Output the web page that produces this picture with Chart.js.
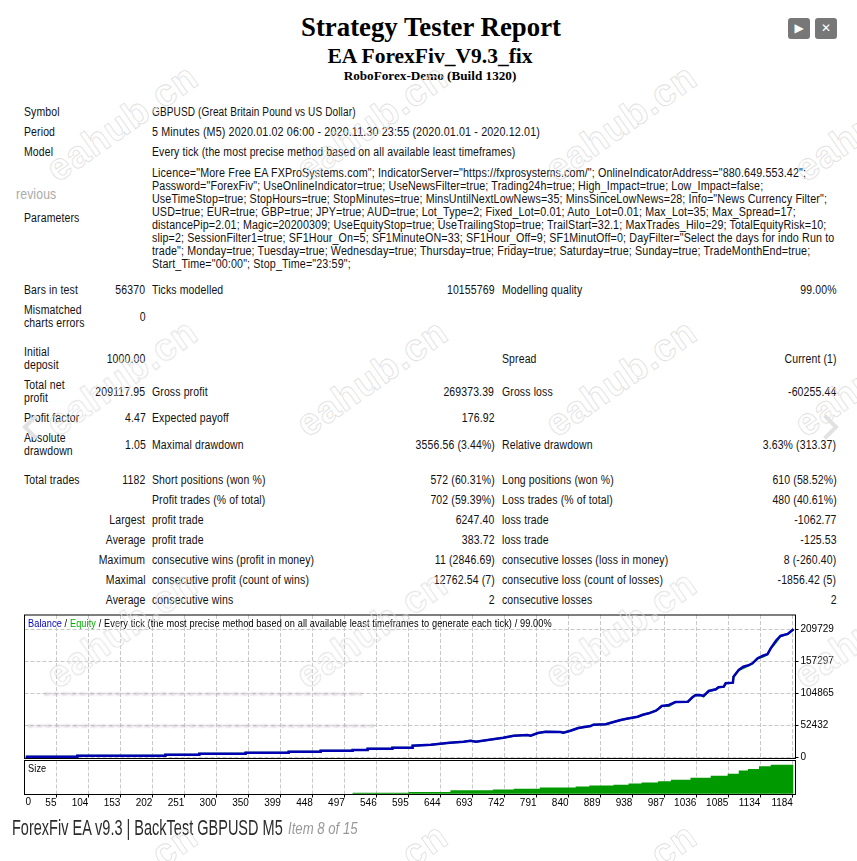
<!DOCTYPE html>
<html>
<head>
<meta charset="utf-8">
<title>Strategy Tester Report</title>
<script src="https://cdn.jsdelivr.net/npm/chart.js@4"></script>
<style>
html, body { margin: 0; padding: 0; background: #fff; }
body { position: relative; width: 857px; height: 861px; overflow: hidden; font-family: "Liberation Sans", sans-serif; color: #111; }
.t { position: absolute; font-size: 12px; line-height: 14px; white-space: nowrap; letter-spacing: 0.15px; transform: scaleX(0.873); transform-origin: left center; }
.r { transform-origin: right center; }
.head { position: absolute; transform: translateX(-50%); font-family: "Liberation Serif", serif; font-weight: bold; color: #000; white-space: nowrap; }
canvas { position: absolute; left: 0; }
.btn { position: absolute; top: 18px; width: 22px; height: 21px; background: #777; border-radius: 3px; color: #fff; text-align: center; font: 12px/21px "DejaVu Sans", sans-serif; }
.mark { position: absolute; font: bold 38px "Liberation Sans", sans-serif; letter-spacing: 1px; color: transparent; -webkit-text-stroke: 0.8px #dedede; transform: translate(-50%, -50%) rotate(-35deg); white-space: nowrap; pointer-events: none; z-index: 5; }
.smudge { position: absolute; background: repeating-linear-gradient(90deg, #b5a8b5 0 5px, #e6e1e6 5px 9px); filter: blur(1px); opacity: 0.7; z-index: 3; }
.chev { position: absolute; top: 418px; width: 14px; height: 14px; border-left: 4px solid #e2e2e2; border-bottom: 4px solid #e2e2e2; z-index: 4; }
.chart-label { position: absolute; z-index: 4; font-size: 11px; line-height: 13px; white-space: nowrap; letter-spacing: 0.12px; color: #000; transform: scaleX(0.836); transform-origin: left center; }
.foot { position: absolute; white-space: nowrap; transform-origin: left center; }
</style>
</head>
<body>

<div class="head" style="left:431px;top:10px;font-size:26.8px;line-height:34px">Strategy Tester Report</div>
<div class="head" style="left:430px;top:44px;font-size:21.5px;line-height:25px">EA ForexFiv_V9.3_fix</div>
<div class="head" style="left:430px;top:67px;font-size:13.2px;line-height:17px">RoboForex-Demo (Build 1320)</div>

<div class="btn" style="left:788px">&#9654;</div>
<div class="btn" style="left:815px">&#10005;</div>

<canvas id="balanceChart" width="857" height="155" style="top:610px"></canvas>
<canvas id="sizeChart" width="857" height="70" style="top:755px"></canvas>

<div class="chart-label" style="left:28px;top:617px"><span style="color:#0000c8">Balance</span> / <span style="color:#00b000">Equity</span> / Every tick (the most precise method based on all available least timeframes to generate each tick) / 99.00%</div>
<div class="chart-label" style="left:28px;top:762px">Size</div>

<div class="smudge" style="left:44px;top:693px;width:318px;height:2px"></div>
<div class="smudge" style="left:28px;top:725px;width:346px;height:2px"></div>

<div class="chev" style="left:26px;transform:rotate(45deg)"></div>
<div class="chev" style="left:817px;transform:rotate(225deg)"></div>

<div id="report"></div>
<div id="marks"></div>

<div class="foot" style="left:12px;top:814px;font-size:21.5px;line-height:28px;color:#2b2b2b;transform:scaleX(0.675)">ForexFiv EA v9.3 | BackTest GBPUSD M5</div>
<div class="foot" style="left:288px;top:815px;font-size:17px;line-height:28px;font-style:italic;color:#999;transform:scaleX(0.775)">Item 8 of 15</div>

<script>
// trade number -> balance
var balanceTrades = [8, 87, 87, 222, 222, 274, 274, 345, 345, 411, 411, 460, 460, 509, 509, 532, 532, 570, 570, 601, 601, 629,
    658, 679, 690, 698, 724, 740, 756, 777, 782, 793, 805, 828, 832, 843, 855, 874, 878, 897, 905, 920, 931,
    946, 954, 963, 974, 978, 983, 994, 1004, 1023, 1030, 1035, 1043, 1047, 1055, 1066, 1070, 1078, 1081, 1092, 1093,
    1101, 1108, 1116, 1122, 1130, 1138, 1145, 1150, 1158, 1165, 1176, 1185];
var balanceValues = [1300, 1300, 2950, 2950, 4600, 4600, 6200, 6200, 7900, 7900, 9500, 9500, 11100, 11100, 12300, 12300, 14400, 14400, 16100, 16100, 19300, 21000,
    24200, 25900, 27500, 25900, 29800, 32400, 35700, 36900, 35700, 40100, 42300, 41800, 40600, 43900, 48300, 51600, 53700, 54400, 57000, 61400, 63900,
    66800, 70100, 72400, 76700, 80000, 84400, 86000, 90900, 91400, 98600, 102400, 101900, 100800, 109000, 111700, 115000, 116000, 121600, 122600, 132400,
    143400, 148800, 151100, 154300, 162500, 166800, 169100, 178900, 191400, 199100, 202400, 210100];
var equityValues = [1300, 1300, 2950, 2950, 4600, 4600, 6200, 6200, 7900, 7900, 9500, 9500, 11100, 11100, 12300, 12300, 14400, 14400, 16100, 16100, 19300, 21000,
    24200, 25900, 27500, 25900, 29800, 32400, 35700, 36900, 35700, 40100, 42300, 41800, 40600, 43900, 48300, 51600, 53700, 54400, 57000, 61400, 63900,
    66800, 70100, 72400, 76700, 80000, 84400, 84300, 90900, 91400, 98600, 102400, 101900, 100000, 109000, 111700, 115000, 116000, 121600, 122600, 132400,
    143400, 146600, 151100, 154300, 162500, 164800, 169100, 178900, 188800, 199100, 202400, 210100];

var sizeTrades = [8, 509, 595, 659, 724, 756, 796, 851, 872, 909, 932, 952, 977, 997, 1027, 1058, 1084, 1101, 1115, 1132, 1150, 1185];
var sizeValues = [0, 1.2, 1.9, 4, 5.1, 6, 7.5, 8.7, 9.9, 10.7, 12.3, 13.5, 15.1, 16.7, 19.1, 21.5, 23.9, 27.9, 29.9, 33, 35, 35];

var xFirstLabel = '0';
var xTickValues = [55, 104, 153, 202, 251, 300, 350, 399, 448, 497, 546, 595, 644, 693, 742, 791, 840, 889, 938, 987, 1036, 1085, 1134, 1184];
var yTickValues = [0, 52432, 104865, 157297, 209729];

var chartFont = { family: '"Liberation Sans", sans-serif', size: 10 };
var gridColor = '#c8c8c8';
var gridDash = [4, 2];

function toPoints(xs, ys) {
    return xs.map(function (x, i) { return { x: x, y: ys[i] }; });
}

function setTicks(values) {
    return function (scale) {
        scale.ticks = values.map(function (v) { return { value: v }; });
    };
}

// pin the plot area: no room kept for labels that stick out past the ends
function fitAxis(width, height) {
    return function (scale) {
        if (width !== null) scale.width = width;
        if (height !== null) scale.height = height;
        scale.paddingTop = scale.paddingBottom = scale.paddingLeft = scale.paddingRight = 0;
    };
}

// black frame round each panel, MT4 style
var framePlugin = {
    id: 'frame',
    afterDraw: function (chart) {
        var a = chart.chartArea, ctx = chart.ctx;
        ctx.save();
        ctx.strokeStyle = '#000';
        ctx.lineWidth = 1;
        ctx.strokeRect(a.left, a.top, a.right - a.left, a.bottom - a.top);
        ctx.restore();
    }
};

// the first label sits inside the left edge, not against a tick
var firstLabelPlugin = {
    id: 'firstLabel',
    afterDraw: function (chart) {
        var a = chart.chartArea, ctx = chart.ctx;
        ctx.save();
        ctx.fillStyle = '#000';
        ctx.font = chartFont.size + 'px ' + chartFont.family;
        ctx.textBaseline = 'middle';
        ctx.fillText(xFirstLabel, a.left + 1, a.bottom + 7.5);
        ctx.restore();
    }
};

new Chart(document.getElementById('balanceChart'), {
    type: 'line',
    plugins: [framePlugin],
    data: {
        datasets: [
            { label: 'Equity', data: toPoints(balanceTrades, equityValues), borderColor: '#00a000', borderWidth: 2, pointRadius: 0, tension: 0, order: 2 },
            { label: 'Balance', data: toPoints(balanceTrades, balanceValues), borderColor: '#0000b4', borderWidth: 2.5, pointRadius: 0, tension: 0, order: 1 }
        ]
    },
    options: {
        responsive: false,
        animation: false,
        layout: { padding: { left: 24.5, top: 5, bottom: 6.5, right: 0 } },
        plugins: { legend: { display: false }, tooltip: { enabled: false } },
        scales: {
            x: {
                type: 'linear', min: 6, max: 1188,
                afterBuildTicks: setTicks(xTickValues),
                afterFit: fitAxis(null, 0),
                ticks: { display: false },
                border: { display: false, dash: gridDash },
                grid: { color: gridColor, drawTicks: false }
            },
            y: {
                position: 'right', min: -1640, max: 233480,
                afterBuildTicks: setTicks(yTickValues),
                afterFit: fitAxis(61.5, null),
                ticks: { color: '#000', font: chartFont, padding: 2, autoSkip: false, callback: function (v) { return String(v); } },
                border: { display: false, dash: gridDash },
                grid: { color: gridColor, tickColor: '#000', tickLength: 3, tickBorderDash: [] }
            }
        }
    }
});

new Chart(document.getElementById('sizeChart'), {
    type: 'line',
    plugins: [framePlugin, firstLabelPlugin],
    data: {
        datasets: [
            { label: 'Size', data: toPoints(sizeTrades, sizeValues), stepped: true, borderWidth: 0, pointRadius: 0, backgroundColor: '#009900', fill: 'origin' }
        ]
    },
    options: {
        responsive: false,
        animation: false,
        layout: { padding: { left: 24.5, top: 5.5, bottom: 0, right: 0 } },
        plugins: { legend: { display: false }, tooltip: { enabled: false } },
        scales: {
            x: {
                type: 'linear', min: 6, max: 1188,
                afterBuildTicks: setTicks(xTickValues),
                afterFit: fitAxis(null, 30.5),
                ticks: { color: '#000', font: chartFont, align: 'end', padding: 0, maxRotation: 0, autoSkip: false, callback: function (v) { return String(v); } },
                border: { display: false, dash: gridDash },
                grid: { color: gridColor, tickColor: '#000', tickLength: 3, tickBorderDash: [] }
            },
            y: {
                position: 'right', min: -1, max: 40,
                afterFit: fitAxis(61.5, null),
                ticks: { display: false },
                border: { display: false },
                grid: { display: false }
            }
        }
    }
});

// report table text
var report = document.getElementById('report');
function put(text, x, y, right, squeeze) {
    var d = document.createElement('div');
    d.className = right ? 't r' : 't';
    if (right) d.style.right = (857 - x) + 'px';
    else d.style.left = x + 'px';
    d.style.top = (y - 7) + 'px';
    if (squeeze) d.style.transform = 'scaleX(' + squeeze + ')';
    d.textContent = text;
    report.appendChild(d);
}
var colA = 24, colB = 145.5, colC = 152, colD = 494.5, colE = 501.7, colF = 836.5;

put('Symbol', colA, 112);
put('GBPUSD (Great Britain Pound vs US Dollar)', colC, 112, false, 0.836);
put('Period', colA, 132);
put('5 Minutes (M5) 2020.01.02 06:00 - 2020.11.30 23:55 (2020.01.01 - 2020.12.01)', colC, 132, false, 0.895);
put('Model', colA, 152);
put('Every tick (the most precise method based on all available least timeframes)', colC, 152);
put('Parameters', colA, 218);

var paramLines = [
    'Licence="More Free EA FXProSystems.com"; IndicatorServer="https://fxprosystems.com/"; OnlineIndicatorAddress="880.649.553.42";',
    'Password="ForexFiv"; UseOnlineIndicator=true; UseNewsFilter=true; Trading24h=true; High_Impact=true; Low_Impact=false;',
    'UseTimeStop=true; StopHours=true; StopMinutes=true; MinsUntilNextLowNews=35; MinsSinceLowNews=28; Info="News Currency Filter";',
    'USD=true; EUR=true; GBP=true; JPY=true; AUD=true; Lot_Type=2; Fixed_Lot=0.01; Auto_Lot=0.01; Max_Lot=35; Max_Spread=17;',
    'distancePip=2.01; Magic=20200309; UseEquityStop=true; UseTrailingStop=true; TrailStart=32.1; MaxTrades_Hilo=29; TotalEquityRisk=10;',
    'slip=2; SessionFilter1=true; SF1Hour_On=5; SF1MinuteON=33; SF1Hour_Off=9; SF1MinutOff=0; DayFilter="Select the days for indo Run to',
    'trade"; Monday=true; Tuesday=true; Wednesday=true; Thursday=true; Friday=true; Saturday=true; Sunday=true; TradeMonthEnd=true;',
    'Start_Time="00:00"; Stop_Time="23:59";'
];
paramLines.forEach(function (line, i) { put(line, colC, 172.5 + i * 13, false, 0.893); });

put('Bars in test', colA, 290); put('56370', colB, 290, true); put('Ticks modelled', colC, 290);
put('10155769', colD, 290, true); put('Modelling quality', colE, 290); put('99.00%', colF, 290, true);

put('Mismatched', colA, 310); put('charts errors', colA, 323); put('0', colB, 317, true);

put('Initial', colA, 352); put('deposit', colA, 365); put('1000.00', colB, 359, true);
put('Spread', colE, 359); put('Current (1)', colF, 359, true);

put('Total net', colA, 385); put('profit', colA, 398); put('209117.95', colB, 392, true); put('Gross profit', colC, 392);
put('269373.39', colD, 392, true); put('Gross loss', colE, 392); put('-60255.44', colF, 392, true);

put('Profit factor', colA, 418); put('4.47', colB, 418, true); put('Expected payoff', colC, 418); put('176.92', colD, 418, true);

put('Absolute', colA, 438); put('drawdown', colA, 451); put('1.05', colB, 445, true); put('Maximal drawdown', colC, 445);
put('3556.56 (3.44%)', colD, 445, true); put('Relative drawdown', colE, 445); put('3.63% (313.37)', colF, 445, true);

put('Total trades', colA, 480); put('1182', colB, 480, true); put('Short positions (won %)', colC, 480);
put('572 (60.31%)', colD, 480, true); put('Long positions (won %)', colE, 480); put('610 (58.52%)', colF, 480, true);

put('Profit trades (% of total)', colC, 500); put('702 (59.39%)', colD, 500, true);
put('Loss trades (% of total)', colE, 500); put('480 (40.61%)', colF, 500, true);

put('Largest', colB, 520, true); put('profit trade', colC, 520); put('6247.40', colD, 520, true);
put('loss trade', colE, 520); put('-1062.77', colF, 520, true);

put('Average', colB, 540, true); put('profit trade', colC, 540); put('383.72', colD, 540, true);
put('loss trade', colE, 540); put('-125.53', colF, 540, true);

put('Maximum', colB, 560, true); put('consecutive wins (profit in money)', colC, 560); put('11 (2846.69)', colD, 560, true);
put('consecutive losses (loss in money)', colE, 560); put('8 (-260.40)', colF, 560, true);

put('Maximal', colB, 580, true); put('consecutive profit (count of wins)', colC, 580); put('12762.54 (7)', colD, 580, true);
put('consecutive loss (count of losses)', colE, 580); put('-1856.42 (5)', colF, 580, true);

put('Average', colB, 600, true); put('consecutive wins', colC, 600); put('2', colD, 600, true);
put('consecutive losses', colE, 600); put('2', colF, 600, true);

// stray "revious" from the gallery page behind the screenshot
var rev = document.createElement('div');
rev.className = 't';
rev.style.cssText = 'left:16px;top:187px;color:#aaa;font-size:14px';
rev.textContent = 'revious';
report.appendChild(rev);

// site watermark
var marks = document.getElementById('marks');
[122, 372, 621, 870].forEach(function (mx) {
    [123, 378, 630, 882].forEach(function (my) {
        var m = document.createElement('div');
        m.className = 'mark';
        m.style.left = mx + 'px';
        m.style.top = my + 'px';
        m.textContent = 'eahub.cn';
        marks.appendChild(m);
    });
});
</script>
</body>
</html>
